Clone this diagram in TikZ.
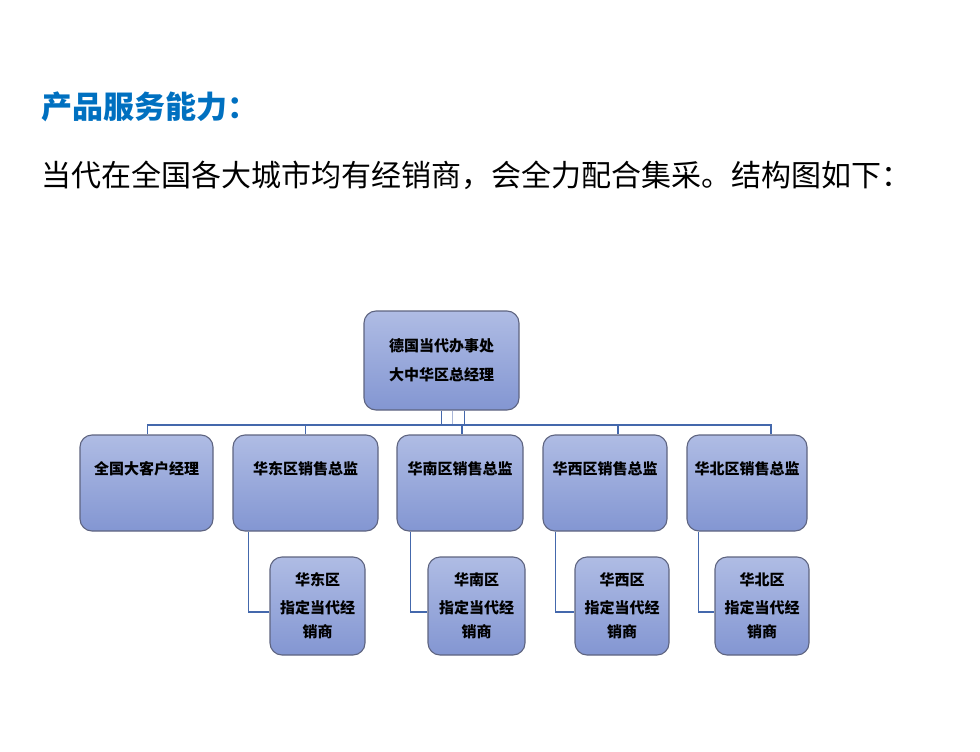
\documentclass[tikz,border=0pt]{standalone}
\usepackage{fontspec}
\setmainfont{Noto Sans CJK SC}
\usepackage{tikz}
\definecolor{titleblue}{HTML}{0070C0}
\definecolor{boxtop}{HTML}{AFBCE4}
\definecolor{boxbot}{HTML}{8396D2}
\definecolor{boxline}{HTML}{5E6480}
\definecolor{linkblue}{HTML}{4468AC}
\definecolor{linklight}{HTML}{A9B6D8}

\begin{document}
\begin{tikzpicture}[
  x=1pt, y=-1pt,
  font=\fontsize{15}{24}\selectfont\bfseries,
  box/.style={draw=boxline, line width=1.1pt, rounded corners=12pt, top color=boxtop, bottom color=boxbot, align=center, inner sep=2pt},
  lead/.style={box, minimum height=96pt, text height=35pt, text depth=53pt, inner ysep=4pt},
  dealer/.style={box, minimum width=95pt, minimum height=98pt},
  link/.style={draw=linkblue, line width=1.2pt}
]
\useasboundingbox (0,0) rectangle (980,752);
% heading
\node[anchor=west, inner sep=0pt, text=titleblue, font=\fontsize{31}{33}\selectfont\bfseries] (title) at (41,107) {产品服务能力：};
\node[anchor=west, inner sep=0pt, font=\fontsize{30}{32}\selectfont] (intro) at (41,175) {当代在全国各大城市均有经销商，会全力配合集采。结构图如下：};

% chart
\node[box, minimum width=155pt, minimum height=99pt, font=\fontsize{15}{29}\selectfont\bfseries] (head) at (441.5,360.5) {德国当代办事处\\大中华区总经理};
\coordinate (bus) at (0,425);

\node[lead, minimum width=133pt] (kam) at (146.5,483) {全国大客户经理};
\node[lead, minimum width=145pt] (mgrE) at (305.5,483) {华东区销售总监};
\node[lead, minimum width=126pt] (mgrS) at (460,483) {华南区销售总监};
\node[lead, minimum width=124pt] (mgrW) at (605,483) {华西区销售总监};
\node[lead, minimum width=120pt] (mgrN) at (747,483) {华北区销售总监};

\node[dealer] (dealE) at (317.5,606) {华东区\\[4pt]指定当代经\\销商};
\node[dealer, minimum width=97pt] (dealS) at (476.5,606) {华南区\\[4pt]指定当代经\\销商};
\node[dealer, minimum width=94pt] (dealW) at (622,606) {华西区\\[4pt]指定当代经\\销商};
\node[dealer, minimum width=94pt] (dealN) at (762,606) {华北区\\[4pt]指定当代经\\销商};

\draw[link] (head.south) -- (head.south |- bus);
\draw[linklight, line width=1.6pt] ([xshift=11pt]head.south) -- ([xshift=11pt]head.south |- bus);
\draw[link] ([xshift=23pt]head.south) -- ([xshift=23pt]head.south |- bus);
\draw[link] ([xshift=1pt]kam.north) |- ([xshift=24pt]mgrN.north |- bus) -- ([xshift=24pt]mgrN.north);
\draw[link] (mgrE.north |- bus) -- (mgrE.north);
\draw[link] ([xshift=2pt]mgrS.north |- bus) -- ([xshift=2pt]mgrS.north);
\draw[link] ([xshift=13pt]mgrW.north |- bus) -- ([xshift=13pt]mgrW.north);

\draw[link] ([xshift=16pt]mgrE.south west) |- ([yshift=-6pt]dealE.west);
\draw[link] ([xshift=14pt]mgrS.south west) |- ([yshift=-6pt]dealS.west);
\draw[link] ([xshift=13pt]mgrW.south west) |- ([yshift=-6pt]dealW.west);
\draw[link] ([xshift=12pt]mgrN.south west) |- ([yshift=-6pt]dealN.west);
\end{tikzpicture}
\end{document}
